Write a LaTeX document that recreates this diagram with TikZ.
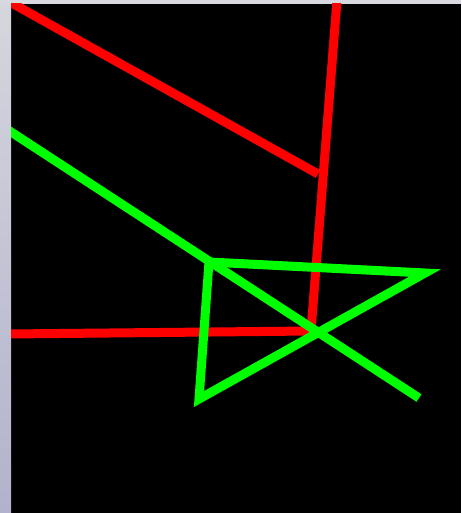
\documentclass[tikz,border=0pt]{standalone}
\definecolor{pure red}{RGB}{255,0,0}
\definecolor{pure green}{RGB}{0,255,0}
\definecolor{stripTop}{RGB}{214,214,222}
\definecolor{stripBot}{RGB}{178,178,204}
\definecolor{topBar}{RGB}{216,216,224}
\begin{document}
\begin{tikzpicture}[x=1pt,y=-1pt,
  redline/.style={draw=pure red,line width=9pt,line cap=butt,line join=miter},
  greenline/.style={draw=pure green,line width=9pt,line cap=butt,line join=miter,miter limit=20}]
\useasboundingbox (0,0) rectangle (461,513);
\fill[black] (0,0) rectangle (461,513);
\fill[top color=stripTop,bottom color=stripBot] (0,0) rectangle (11,513);
\fill[topBar] (0,0) rectangle (461,4);
\begin{scope}
\clip (11,4) rectangle (461,513);
\coordinate (r1) at (8,1);
\coordinate (r2) at (318,174);
\coordinate (r3) at (337,0);
\coordinate (r4) at (311,331);
\coordinate (r5) at (8,334);
\draw[redline] (r1) -- (r2);
\draw[redline] (r3) -- (r4) -- (r5);
\coordinate (g1) at (8,130);
\coordinate (g2) at (209,262);
\coordinate (g3) at (425,273);
\coordinate (g4) at (199,399);
\coordinate (g5) at (419,398);
\draw[greenline] (g2) -- (g3) -- (g4) -- cycle;
\draw[greenline] (g1) -- (g5);
\end{scope}
\end{tikzpicture}
\end{document}
